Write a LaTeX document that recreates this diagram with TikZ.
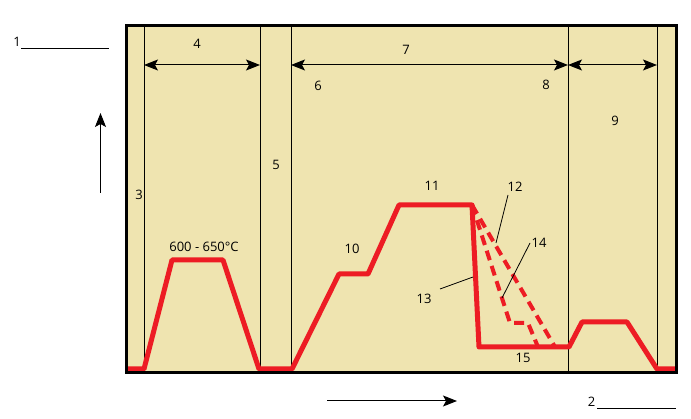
\documentclass[tikz,border=0pt]{standalone}
\usepackage{fontspec}
\setmainfont{Open Sans}
\usetikzlibrary{arrows.meta}
\definecolor{tanfill}{HTML}{EFE4B0}
\definecolor{pred}{HTML}{ED1C24}
\begin{document}
\begin{tikzpicture}[x=1pt,y=-1pt,
  lbl/.style={inner sep=0pt,font=\fontsize{13}{15}\selectfont},
  thin line/.style={draw=black,line width=1pt},
  dimarrow/.style={line width=1pt,{Stealth[length=14pt,width=11pt,inset=3pt]}-{Stealth[length=14pt,width=11pt,inset=3pt]}},
  axisarrow/.style={line width=1pt,-{Stealth[length=14pt,width=11pt,inset=3pt]}},
  curve/.style={draw=pred,line width=5pt,line join=round},
  dcurve/.style={draw=pred,line width=4pt,dash pattern=on 10pt off 6pt},
  leader/.style={draw=black,line width=0.8pt}]
\useasboundingbox (0,0) rectangle (691,419);
% background box
\fill[tanfill] (126.5,25.5) rectangle (676.5,373);
% vertical lines
\foreach \n/\x in {a/144,b/260,c/291,d/568,e/657}{
  \coordinate (\n t) at (\x,26);
  \coordinate (\n b) at (\x,372);
  \draw[thin line] (\n t) -- (\n b);
}
% dimension arrows
\coordinate (a m) at (144,65);
\coordinate (b m) at (260,65);
\coordinate (c m) at (291,65);
\coordinate (d m) at (568,65);
\coordinate (e m) at (657,65);
\draw[dimarrow] (a m) -- (b m);
\draw[dimarrow] (c m) -- (d m);
\draw[dimarrow] (d m) -- (e m);
% red curve
\draw[curve] (128,369) -- (144,369) -- (172,260) -- (223,260) -- (259,369) -- (292,369)
  -- (339,274) -- (368,274) -- (399,205) -- (472,205) coordinate (apex)
  -- (479,347) -- (569,347) -- (582,322) -- (627,322) -- (657,369) -- (675,369);
% dashed variants
\draw[dcurve] (apex) -- (510,323) -- (528,323) -- (538,347);
\draw[dcurve] (apex) -- (555,347);
% frame
\draw[line width=3pt] (126.5,25.5) rectangle (676.5,373);
% labels
\node[lbl] (l1) at (17,42) {1};
\coordinate (l1s) at (21,49);
\coordinate (l1e) at (108.5,49);
\draw[thin line] (l1s) -- (l1e);
\node[lbl] (l2) at (591.5,402) {2};
\coordinate (l2s) at (597,409);
\coordinate (l2e) at (676,409);
\draw[thin line] (l2s) -- (l2e);
\node[lbl] (l3) at (139,195) {3};
\node[lbl] (l4) at (197,44) {4};
\node[lbl] (l5) at (276,165) {5};
\node[lbl] (l6) at (318,86) {6};
\node[lbl] (l7) at (406,50) {7};
\node[lbl] (l8) at (546,85) {8};
\node[lbl] (l9) at (615,121) {9};
\node[lbl] (l10) at (352,249) {10};
\node[lbl] (l11) at (432,186) {11};
\node[lbl] (l12) at (515,187) {12};
\node[lbl] (l13) at (424,299) {13};
\node[lbl] (l14) at (539,243) {14};
\node[lbl] (l15) at (523,358) {15};
\node[lbl] (temp) at (204,247) {600 - 650°C};
% leaders
\coordinate (p12a) at (508,195);
\coordinate (p12b) at (496,243);
\draw[leader] (p12a) -- (p12b);
\coordinate (p14a) at (530,243);
\coordinate (p14b) at (502,298);
\draw[leader] (p14a) -- (p14b);
\coordinate (p13a) at (440,289);
\coordinate (p13b) at (473,277);
\draw[leader] (p13a) -- (p13b);
% axis arrows
\coordinate (up0) at (100.5,193);
\coordinate (up1) at (100.5,113);
\draw[axisarrow] (up0) -- (up1);
\coordinate (rt0) at (327,401);
\coordinate (rt1) at (457,401);
\draw[axisarrow] (rt0) -- (rt1);
\end{tikzpicture}
\end{document}
